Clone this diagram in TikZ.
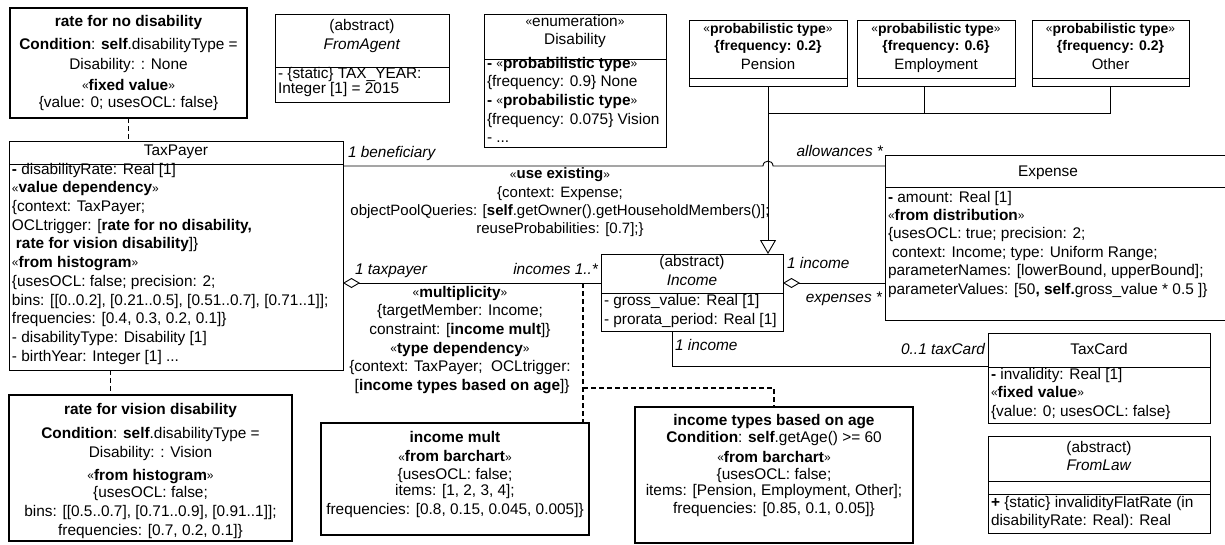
\documentclass[tikz,border=0pt]{standalone}
\usepackage{fontspec}
\setmainfont{Liberation Sans}
\usetikzlibrary{arrows.meta}

\newcommand{\guil}[1]{\raisebox{0.8pt}{\fontsize{12}{18.7}\selectfont\mdseries#1}}
\newcommand{\stereo}[1]{\guil{«}\textbf{#1}\guil{»}}
\newcommand{\typename}[1]{{\fontsize{15}{17.5}\selectfont#1}}

\begin{document}
\begin{tikzpicture}[x=1pt, y=-1pt, font=\fontsize{15.4}{18.7}\selectfont,
  every node/.style={inner sep=0pt, outer sep=0pt},
  classbox/.style={draw, line width=0.9pt, anchor=north west},
  rulebox/.style={draw, line width=2.2pt, anchor=north west},
  ctext/.style={anchor=north, align=center, execute at begin node=\strut},
  ltext/.style={anchor=north west, align=left, execute at begin node=\strut},
  typetext/.style={ctext, font=\fontsize{14}{17.5}\selectfont},
  role/.style={font=\fontsize{15.4}{18.7}\selectfont\itshape},
  assoc/.style={line width=0.9pt},
  rulelink/.style={line width=1.3pt, dash pattern=on 5pt off 3pt}]

\useasboundingbox (0,0) rectangle (1225,544);

% classes
\node[classbox, minimum width=334pt, minimum height=229pt] (taxpayer) at (9,141) {};
\draw[assoc] ([yshift=-23pt]taxpayer.north west) -- ([yshift=-23pt]taxpayer.north east);
\node[ctext] (taxpayer-name) at (176,142) {TaxPayer};
\node[ltext] (taxpayer-attr) at (12,163) {\textbf{-} disabilityRate: Real [1]\\
  \stereo{value dependency}\\
  \{context: TaxPayer;\\
  OCLtrigger: [\textbf{rate for no disability,}\\
  \hspace*{4pt}\textbf{rate for vision disability}]\}\\
  \stereo{from histogram}\\
  \{usesOCL: false; precision: 2;\\
  bins: [[0..0.2], [0.21..0.5], [0.51..0.7], [0.71..1]];\\
  frequencies: [0.4, 0.3, 0.2, 0.1]\}\\
  - disabilityType: Disability [1]\\
  - birthYear: Integer [1] ...};

\node[classbox, minimum width=174pt, minimum height=88pt] (fromagent) at (275,14) {};
\draw[assoc] ([yshift=-53pt]fromagent.north west) -- ([yshift=-53pt]fromagent.north east);
\node[ctext] (fromagent-name) at (362,19) {(abstract)\\[1pt]\textit{FromAgent}};
\node[ltext] (fromagent-attr) at (278,67) {- \{static\} TAX\_YEAR:\\[-3pt]Integer [1] = 2015};

\node[classbox, minimum width=182pt, minimum height=133pt] (disability) at (484,14) {};
\draw[assoc] ([yshift=-45pt]disability.north west) -- ([yshift=-45pt]disability.north east);
\node[ctext] (disability-name) at (575,15) {\guil{«}enumeration\guil{»}\\Disability};
\node[ltext] (disability-lit) at (487,57) {\textbf{-} \stereo{probabilistic type}\\
  \{frequency: 0.9\} None\\
  \textbf{-} \stereo{probabilistic type}\\
  \{frequency: 0.075\} Vision\\
  - ...};

\node[classbox, minimum width=158pt, minimum height=66pt] (pension) at (689,20) {};
\draw[assoc] ([yshift=-58pt]pension.north west) -- ([yshift=-58pt]pension.north east);
\node[typetext] (pension-name) at (768,23.5) {\stereo{probabilistic type}\\[-0.5pt]\textbf{\{frequency: 0.2\}}\\[1.5pt]\typename{Pension}};

\node[classbox, minimum width=158pt, minimum height=66pt] (employment) at (857,20) {};
\draw[assoc] ([yshift=-58pt]employment.north west) -- ([yshift=-58pt]employment.north east);
\node[typetext] (employment-name) at (936,23.5) {\stereo{probabilistic type}\\[-0.5pt]\textbf{\{frequency: 0.6\}}\\[1.5pt]\typename{Employment}};

\node[classbox, minimum width=157pt, minimum height=66pt] (other) at (1032,20) {};
\draw[assoc] ([yshift=-58pt]other.north west) -- ([yshift=-58pt]other.north east);
\node[typetext] (other-name) at (1110.5,23.5) {\stereo{probabilistic type}\\[-0.5pt]\textbf{\{frequency: 0.2\}}\\[1.5pt]\typename{Other}};

\node[classbox, minimum width=182pt, minimum height=77pt] (income) at (601,254) {};
\draw[assoc] ([yshift=-39pt]income.north west) -- ([yshift=-39pt]income.north east);
\node[ctext] (income-name) at (692,255) {(abstract)\\[0.3pt]\textit{Income}};
\node[ltext] (income-attr) at (604,294) {- gross\_value: Real [1]\\[0.3pt]- prorata\_period: Real [1]};

\node[classbox, minimum width=341pt, minimum height=165pt] (expense) at (885,155) {};
\draw[assoc] ([yshift=-32pt]expense.north west) -- ([yshift=-32pt]expense.north east);
\node[ctext] (expense-name) at (1048,163) {Expense};
\node[ltext] (expense-attr) at (888,191) {\textbf{-} amount: Real [1]\\[-0.3pt]
  \stereo{from distribution}\\[-0.3pt]
  \{usesOCL: true; precision: 2;\\[-0.3pt]
  \hspace*{4pt}context: Income; type: Uniform Range;\\[-0.3pt]
  parameterNames: [lowerBound, upperBound];\\[-0.3pt]
  parameterValues: [50\textbf{, self.}gross\_value * 0.5 ]\}};

\node[classbox, minimum width=222pt, minimum height=90pt] (taxcard) at (988,333) {};
\draw[assoc] ([yshift=-34pt]taxcard.north west) -- ([yshift=-34pt]taxcard.north east);
\node[ctext] (taxcard-name) at (1099,341) {TaxCard};
\node[ltext] (taxcard-attr) at (991,368) {\textbf{-} invalidity: Real [1]\\[-0.2pt]
  \stereo{fixed value}\\[-0.2pt]
  \{value: 0; usesOCL: false\}};

\node[classbox, minimum width=222pt, minimum height=97pt] (fromlaw) at (988,436) {};
\draw[assoc] ([yshift=-45pt]fromlaw.north west) -- ([yshift=-45pt]fromlaw.north east);
\draw[assoc] ([yshift=-58pt]fromlaw.north west) -- ([yshift=-58pt]fromlaw.north east);
\node[ctext] (fromlaw-name) at (1099,441) {(abstract)\\[-0.7pt]\textit{FromLaw}};
\node[ltext] (fromlaw-op) at (991,496) {\textbf{+} \{static\} invalidityFlatRate (in\\[-0.7pt]disabilityRate: Real): Real};

% rules
\node[rulebox, minimum width=237pt, minimum height=110pt] (ratenone) at (10,8) {};
\node[ctext] (ratenone-text) at (128.5,15) {\textbf{rate for no disability}\\[5pt]
  \textbf{Condition}: \textbf{self}.disabilityType =\\[1pt]
  Disability: : None\\[2pt]
  \stereo{fixed value}\\[-1pt]
  \{value: 0; usesOCL: false\}};

\node[rulebox, minimum width=283pt, minimum height=146pt] (vision) at (9,395) {};
\node[ctext] (vision-text) at (150.5,403) {\textbf{rate for vision disability}\\[6pt]
  \textbf{Condition}: \textbf{self}.disabilityType =\\
  Disability: : Vision\\[4pt]
  \stereo{from histogram}\\[-1pt]
  \{usesOCL: false;\\
  bins: [[0.5..0.7], [0.71..0.9], [0.91..1]];\\
  frequencies: [0.7, 0.2, 0.1]\}};

\node[rulebox, minimum width=268pt, minimum height=112pt] (incomemult) at (321,423) {};
\node[ctext] (incomemult-text) at (455,431) {\textbf{income mult}\\[1pt]
  \stereo{from barchart}\\[-1.5pt]
  \{usesOCL: false;\\[-2pt]
  items: [1, 2, 3, 4];\\
  frequencies: [0.8, 0.15, 0.045, 0.005]\}};

\node[rulebox, minimum width=278pt, minimum height=136pt] (incomeage) at (635,407) {};
\node[ctext] (incomeage-text) at (774,414) {\textbf{income types based on age}\\[-1pt]
  \textbf{Condition}: \textbf{self}.getAge() >= 60\\[0.5pt]
  \stereo{from barchart}\\[-1.5pt]
  \{usesOCL: false;\\[-2pt]
  items: [Pension, Employment, Other];\\[-1.5pt]
  frequencies: [0.85, 0.1, 0.05]\}};

% generalization
\coordinate (genbar) at (768,113);
\draw[assoc] (other.south) |- (genbar);
\draw[assoc] ([xshift=-12pt]employment.south) -- ([xshift=-12pt]employment.south |- genbar);
\draw[assoc, -{Triangle[open, length=14pt, width=16pt]}] (pension.south) -- (pension.south |- income.north);

% associations
\coordinate (hop) at (768,166);
\draw[assoc] (taxpayer.east |- hop) -- ([xshift=-5pt]hop)
  .. controls ([shift={(-5pt,6.5pt)}]hop) and ([shift={(5pt,6.5pt)}]hop) .. ([xshift=5pt]hop)
  -- (hop -| expense.west);
\coordinate (incomesrow) at (0,283);
\draw[assoc, {Diamond[open, length=17pt, width=10pt]}-] (taxpayer.east |- incomesrow) -- (income.west |- incomesrow);
\draw[assoc, {Diamond[open, length=17pt, width=10pt]}-] (income.east |- incomesrow) -- (expense.west |- incomesrow);
\draw[assoc] ([xshift=-20pt]income.south) |- ([yshift=-33pt]taxcard.north west);

% role names
\node[role, anchor=base west] (beneficiary-role) at (348,157.5) {1 beneficiary};
\node[role, anchor=base east] (allowances-role) at (883,156.5) {allowances *};
\node[role, anchor=base west] (taxpayer-role) at (355,274.5) {1 taxpayer};
\node[role, anchor=base east] (incomes-role) at (598,274.5) {incomes 1..*};
\node[role, anchor=base west] (income-role) at (787,268.5) {1 income};
\node[role, anchor=base east] (expenses-role) at (882,302.5) {expenses *};
\node[role, anchor=base west] (income-role2) at (675,350.5) {1 income};
\node[role, anchor=base east] (taxcard-role) at (985,354.5) {0..1 taxCard};

% association stereotypes
\node[ctext, font=\fontsize{15}{18.3}\selectfont] (useexisting) at (560,168) {\stereo{use existing}\\
  \{context: Expense;\\
  objectPoolQueries: [\textbf{self}.getOwner().getHouseholdMembers()];\\
  reuseProbabilities: [0.7];\}};
\node[ctext] (multiplicity) at (460,286) {\stereo{multiplicity}\\
  \{targetMember: Income;\\
  constraint: [\textbf{income mult}]\}\\
  \stereo{type dependency}\\
  \{context: TaxPayer;\ \ OCLtrigger:\\{}
  [\textbf{income types based on age}]\}};

% rule links
\draw[rulelink] (ratenone.south) -- (ratenone.south |- taxpayer.north);
\coordinate (visionlink) at ([xshift=-40pt]vision.north);
\draw[rulelink] (visionlink |- taxpayer.south) -- (visionlink);
\coordinate (multlink) at (583,283);
\draw[rulelink] (multlink) -- (multlink |- incomemult.north);
\coordinate (agelink) at (583,388);
\draw[rulelink] (agelink) -| (incomeage.north);

\end{tikzpicture}
\end{document}
